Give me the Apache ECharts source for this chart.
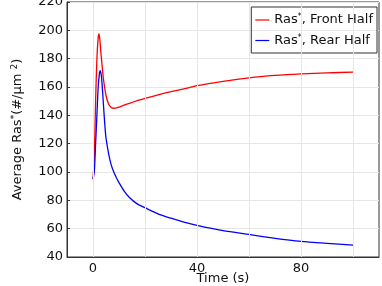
<!DOCTYPE html>
<html>
<head>
<meta charset="utf-8">
<script src="https://cdn.jsdelivr.net/npm/echarts@6/dist/echarts.min.js"></script>
<style>html,body{margin:0;padding:0;background:#fff}#c{width:382px;height:286px}</style>
</head>
<body>
<div id="c"></div>
<script>
var frontTime = [0,0.5,1,1.5,2,2.3,2.6,3,3.5,4,5,6,7,8,9,10,12,14,17,20,25,30,35,40,50,60,70,80,90,100];
var frontVals = [95,110,150,180,195,197.5,194,185,175,166,154,148,145.5,145,145.2,145.8,147.2,148.5,150.3,152,154.5,156.7,158.6,160.9,164,166.5,168.2,169.3,170,170.5];
var rearTime = [0,0.5,1,1.5,2,2.5,2.8,3.2,3.5,4,4.6,5,6,7,8,9,10,12,14,17,20,25,30,35,40,50,60,70,80,90,100];
var rearVals = [95,100,120,140,160,170,171.5,168,162,148,132,124,113,105,100,96,92.5,86.5,82,77.5,74.8,70.5,67.4,64.6,62.3,58.6,55.9,53.2,51,49.6,48.4];
var xTicks = [0,20,40,60,80,100];
var xLabels = [0,40,80];
var seriesNames = ['Ras*, Front Half','Ras*, Rear Half'];

function pairs(t, v){ return t.map(function(x,i){ return [x, v[i]]; }); }
var font = 'DejaVu Sans';
var chart = echarts.init(document.getElementById('c'));
chart.setOption({
  animation: false,
  grid: {left: 67, right: 3, top: 2, bottom: 29, outerBoundsMode: 'none', containLabel: false, show: true, borderColor: '#333', borderWidth: 1, backgroundColor: 'transparent'},
  legend: {
    right: 5, top: 7, orient: 'vertical', itemGap: 7,
    borderColor: '#333', borderWidth: 1, borderRadius: 0, padding: [6, 4, 6, 4],
    icon: 'rect', itemWidth: 14, itemHeight: 1.2,
    formatter: function(n){ var p = n.split('*'); return '{a|' + p[0] + '}{s|*}{a|' + p[1] + '}'; },
    textStyle: {fontFamily: font, fontSize: 13, color: '#111',
      rich: {a: {fontFamily: font, fontSize: 13, color: '#111'}, s: {fontFamily: font, fontSize: 8, color: '#111', verticalAlign: 'top', padding: [0,0,6,0]}}},
    data: seriesNames
  },
  xAxis: {
    type: 'value', min: -10, max: 110,
    name: 'Time (s)', nameLocation: 'middle', nameGap: 15, nameMoveOverlap: false,
    nameTextStyle: {fontFamily: font, fontSize: 13, color: '#111', verticalAlign: 'top'},
    axisLine: {show: true, onZero: false, lineStyle: {color: '#333'}},
    axisTick: {show: true, inside: true, length: 3, customValues: xTicks, lineStyle: {color: '#333'}},
    axisLabel: {customValues: xLabels, fontFamily: font, fontSize: 13, color: '#111', margin: 5},
    splitLine: {show: false}
  },
  yAxis: {
    type: 'value', min: 40, max: 220, interval: 20,
    name: '{a|Average Ras}{s|*}{a|(#/μm }{s|2}{a|)}', nameLocation: 'middle', nameGap: 42, nameMoveOverlap: false,
    nameTextStyle: {fontFamily: font, fontSize: 13, color: '#111',
      rich: {a: {fontFamily: font, fontSize: 13, color: '#111'}, s: {fontFamily: font, fontSize: 9, color: '#111', verticalAlign: 'top', padding: [0,0,6,0]}}},
    axisLine: {show: true, onZero: false, lineStyle: {color: '#333'}},
    axisTick: {show: true, inside: true, length: 3, lineStyle: {color: '#333'}},
    axisLabel: {fontFamily: font, fontSize: 13, color: '#111', margin: 4},
    splitLine: {show: true, lineStyle: {color: '#e6e6e6', width: 1}}
  },
  series: [
    {name: seriesNames[0], type: 'line', data: pairs(frontTime, frontVals), showSymbol: false, smooth: 0.25,
     lineStyle: {color: '#ff0000', width: 1.3}, itemStyle: {color: '#ff0000'},
     markLine: {silent: true, symbol: 'none', animation: false, label: {show: false},
       lineStyle: {color: '#e6e6e6', width: 1, type: 'solid'},
       data: xTicks.map(function(v){ return {xAxis: v}; })}, z: 3},
    {name: seriesNames[1], type: 'line', data: pairs(rearTime, rearVals), showSymbol: false, smooth: 0.25,
     lineStyle: {color: '#0000ff', width: 1.3}, itemStyle: {color: '#0000ff'}, z: 3}
  ]
});
</script>
</body>
</html>
